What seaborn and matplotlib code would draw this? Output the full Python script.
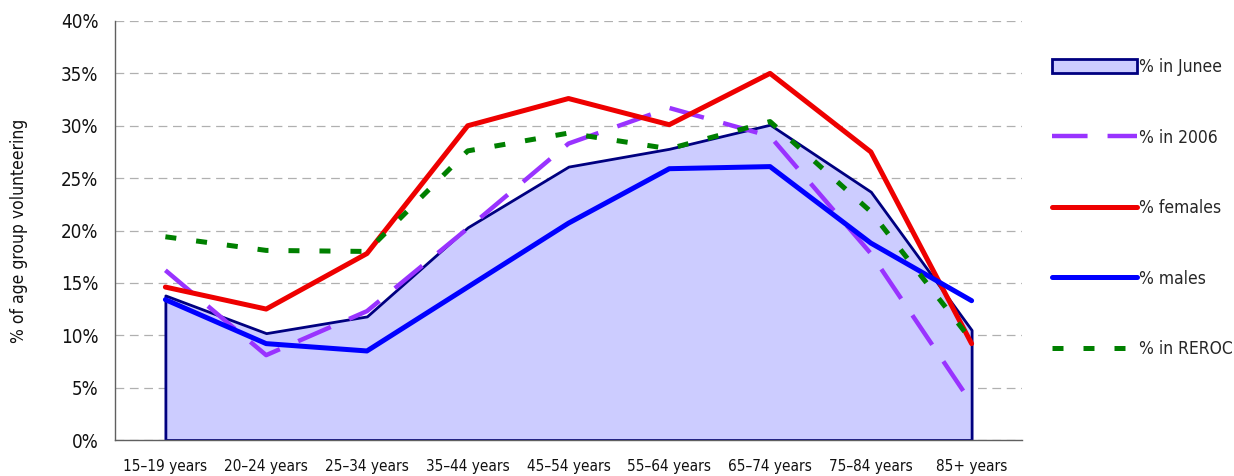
import numpy as np
import matplotlib
matplotlib.use('Agg')
import matplotlib.pyplot as plt
import seaborn as sns
from matplotlib.patches import Patch
from matplotlib.lines import Line2D
from matplotlib.ticker import FixedLocator, PercentFormatter

# Gegevens (procenten per leeftijdsgroep).
leeftijden = ['15–19 years', '20–24 years', '25–34 years', '35–44 years',
              '45–54 years', '55–64 years', '65–74 years', '75–84 years',
              '85+ years']
junee = [13.8, 10.2, 11.8, 20.3, 26.1, 27.8, 30.1, 23.7, 10.5]
jaar_2006 = [16.2, 8.1, 12.3, 20.2, 28.3, 31.7, 29.0, 17.8, 3.5]
vrouwen = [14.6, 12.5, 17.8, 30.0, 32.6, 30.1, 35.0, 27.5, 9.2]
mannen = [13.4, 9.2, 8.5, 14.6, 20.7, 25.9, 26.1, 18.8, 13.3]
reroc = [19.4, 18.1, 18.0, 27.6, 29.3, 27.8, 30.4, 21.8, 9.5]
y_ticks = [0, 5, 10, 15, 20, 25, 30, 35, 40]

sns.set_style('white')
plt.rcParams['font.family'] = ['DejaVu Sans', 'Liberation Sans']
plt.rcParams['font.stretch'] = 'condensed'

fig = plt.figure(figsize=(12.34, 4.76), dpi=100)
ax = fig.add_axes([115 / 1234, 36 / 476, 907 / 1234, 419 / 476])

x = np.arange(len(leeftijden))
streep_paars = (0, (8, 4.5))
streep_groen = (0, (2.2, 4.0))

# Junee als gevuld vlak.
ax.fill_between(x, junee, 0, facecolor='#CCCCFF', edgecolor='#000080',
                linewidth=2, zorder=2)

sns.lineplot(x=x, y=jaar_2006, ax=ax, color='#9933FF', linewidth=3.2,
             linestyle=streep_paars, zorder=3)
sns.lineplot(x=x, y=vrouwen, ax=ax, color='#EE0000', linewidth=3.6,
             zorder=4)
sns.lineplot(x=x, y=mannen, ax=ax, color='#0000FF', linewidth=3.6,
             zorder=4)
sns.lineplot(x=x, y=reroc, ax=ax, color='#008000', linewidth=3.6,
             linestyle=streep_groen, zorder=5)

ax.set_xlim(-0.5, len(leeftijden) - 0.5)
ax.set_ylim(0, 40)
ax.yaxis.set_major_locator(FixedLocator(y_ticks))
ax.yaxis.set_major_formatter(PercentFormatter(decimals=0))
ax.grid(axis='y', color='#B0B0B0', linestyle=(0, (7, 4.5)), linewidth=0.9,
        zorder=1)
ax.set_xticks(x)
ax.set_xticklabels(leeftijden)
ax.set_xticks(np.arange(len(leeftijden) + 1) - 0.5, minor=True)
ax.tick_params(axis='x', which='major', length=0, pad=14, labelsize=11,
               labelcolor='#111111')
ax.tick_params(axis='x', which='minor', length=6, width=1, color='#606060',
               direction='out')
ax.tick_params(axis='y', length=0, pad=12, labelsize=13.5,
               labelcolor='#111111')

for kant in ['top', 'right']:
    ax.spines[kant].set_visible(False)
for kant in ['left', 'bottom']:
    ax.spines[kant].set_color('#606060')
    ax.spines[kant].set_linewidth(1)

ax.set_ylabel('% of age group volunteering', fontsize=12.5, labelpad=24,
              color='#111111')

handles = [
    Patch(facecolor='#CCCCFF', edgecolor='#000080', linewidth=2),
    Line2D([], [], color='#9933FF', linewidth=3.2, linestyle=streep_paars),
    Line2D([], [], color='#EE0000', linewidth=3.6, solid_capstyle='round'),
    Line2D([], [], color='#0000FF', linewidth=3.6, solid_capstyle='round'),
    Line2D([], [], color='#008000', linewidth=3.6, linestyle=streep_groen),
]
labels = ['% in Junee', '% in 2006', '% females', '% males', '% in REROC']
fig.legend(handles, labels, loc='upper left',
           bbox_to_anchor=(1052 / 1234, 1 - 58 / 476),
           bbox_transform=fig.transFigure, frameon=False, fontsize=12.5,
           borderpad=0, borderaxespad=0, handlelength=4.9, handleheight=0.8,
           handletextpad=0.12, labelspacing=3.03)

fig.savefig('out.png', dpi=100)
